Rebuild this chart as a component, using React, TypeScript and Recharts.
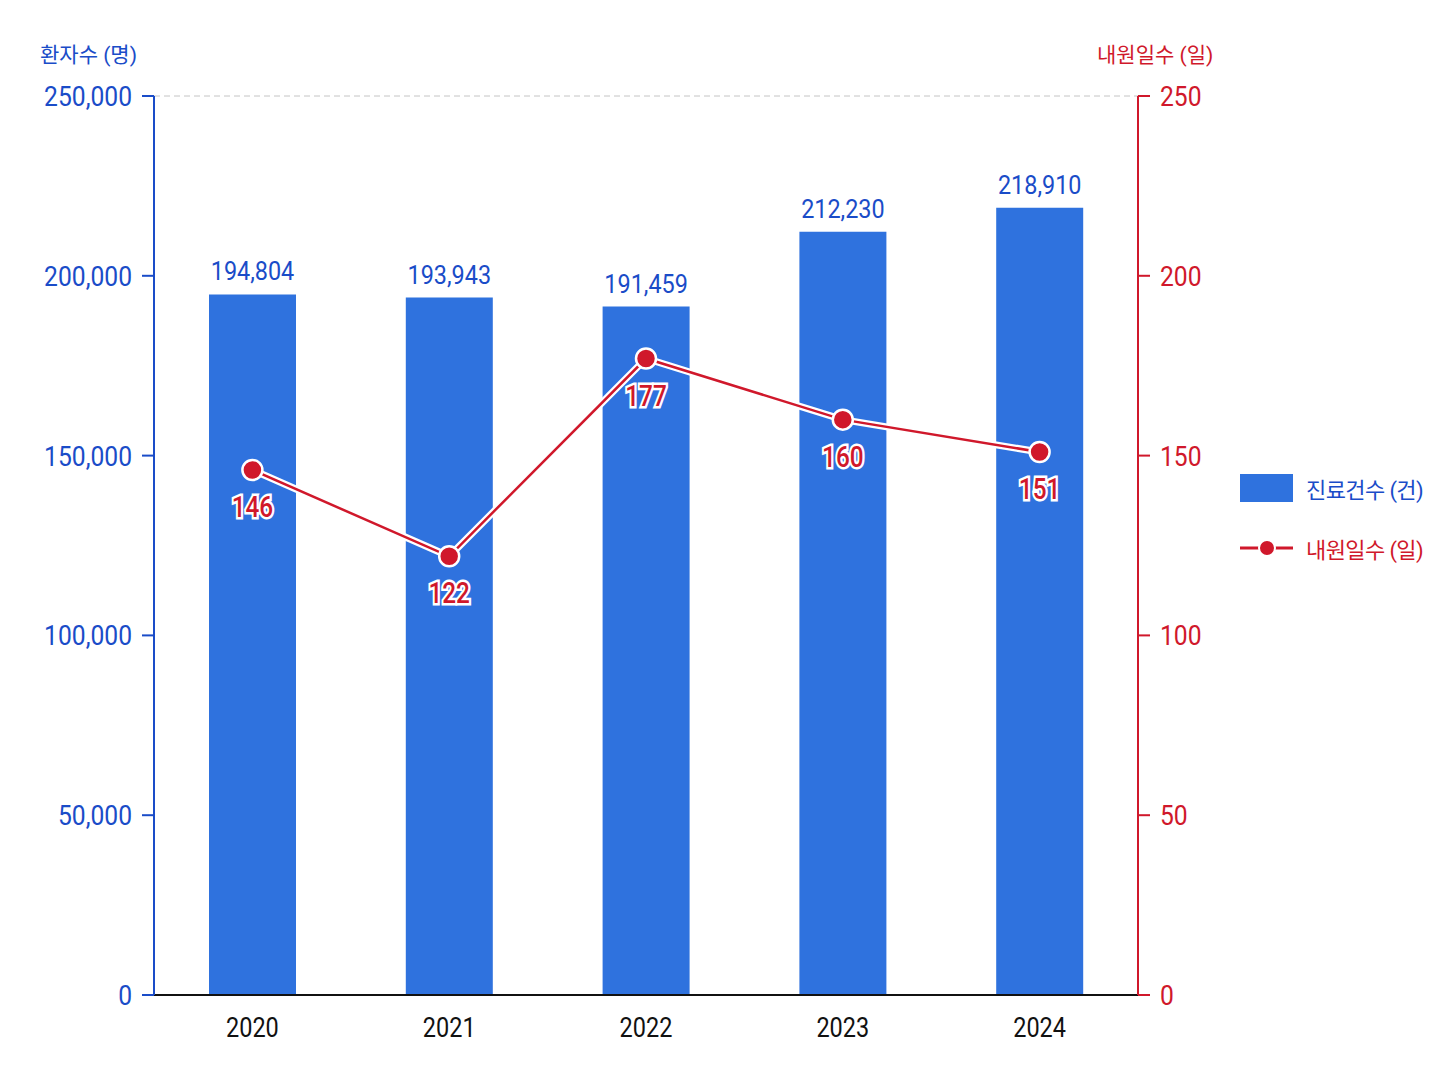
import React from "react"
import {
  ComposedChart,
  Bar,
  Line,
  XAxis,
  YAxis,
  CartesianGrid,
  LabelList,
} from "recharts"

const years = ["2020", "2021", "2022", "2023", "2024"]
const treatments = [194804, 193943, 191459, 212230, 218910]
const visitDays = [146, 122, 177, 160, 151]
const leftTicks = [0, 50000, 100000, 150000, 200000, 250000]
const rightTicks = [0, 50, 100, 150, 200, 250]

const BLUE = "#2F72DE"
const BLUE_TEXT = "#1A4CC8"
const RED = "#D0182B"
const FONT = "Roboto, 'Noto Sans CJK KR', sans-serif"

const data = years.map((year, i) => ({
  year,
  treatments: treatments[i],
  visitDays: visitDays[i],
}))

const fmt = (v: number) => v.toLocaleString("en-US")

// narrow text, the reference uses a condensed face
const Narrow = ({ x, y, scale, anchor, children, ...rest }: any) => (
  <text
    transform={`translate(${x},${y}) scale(${scale},1)`}
    x={0}
    y={0}
    textAnchor={anchor}
    fontFamily={FONT}
    {...rest}
  >
    {children}
  </text>
)

const LeftTick = (props: any) => {
  const { x, y, payload } = props
  return (
    <Narrow x={x} y={y} dy="0.36em" scale={0.88} anchor="end" fill={BLUE_TEXT} fontSize={28}>
      {fmt(payload.value)}
    </Narrow>
  )
}

const RightTick = (props: any) => {
  const { x, y, payload } = props
  return (
    <Narrow x={x} y={y} dy="0.36em" scale={0.88} anchor="start" fill={RED} fontSize={28}>
      {payload.value}
    </Narrow>
  )
}

const YearTick = (props: any) => {
  const { x, y, payload } = props
  return (
    <Narrow x={x} y={y} dy="0.71em" scale={0.84} anchor="middle" fill="#111" fontSize={28}>
      {payload.value}
    </Narrow>
  )
}

const BarValue = (props: any) => {
  const { x, y, width, value } = props
  return (
    <Narrow x={x + width / 2} y={y - 14} scale={0.9} anchor="middle" fill={BLUE_TEXT} fontSize={26}>
      {fmt(value)}
    </Narrow>
  )
}

const LineValue = (props: any) => {
  const { x, y, value } = props
  return (
    <Narrow
      x={x}
      y={y + 47}
      scale={0.84}
      anchor="middle"
      fill={RED}
      stroke="#fff"
      strokeWidth={5}
      paintOrder="stroke"
      fontSize={29}
      fontWeight={500}
    >
      {value}
    </Narrow>
  )
}

export default function App() {
  return (
    <div style={{ position: "relative", width: 1440, height: 1078, background: "#fff", fontFamily: FONT }}>
      <div style={{ position: "absolute", left: 32, top: 30, color: BLUE_TEXT, fontSize: 21 }}>
        환자수 (명)
      </div>
      <div style={{ position: "absolute", left: 1089, top: 30, color: RED, fontSize: 21 }}>
        내원일수 (일)
      </div>

      <ComposedChart
        width={1440}
        height={1078}
        data={data}
        margin={{ top: 88, right: 230, bottom: 41, left: 0 }}
      >
        <CartesianGrid vertical={false} stroke="#c4c4c4" strokeDasharray="6 4" />
        <XAxis
          dataKey="year"
          axisLine={{ stroke: "#111", strokeWidth: 2 }}
          tickLine={false}
          tick={YearTick}
          tickMargin={16}
          height={50}
        />
        <YAxis
          yAxisId="left"
          domain={[0, 250000]}
          ticks={leftTicks}
          width={146}
          axisLine={{ stroke: BLUE_TEXT, strokeWidth: 2 }}
          tickLine={{ stroke: BLUE_TEXT, strokeWidth: 2 }}
          tickSize={12}
          tickMargin={10}
          tick={LeftTick}
        />
        <YAxis
          yAxisId="right"
          orientation="right"
          domain={[0, 250]}
          ticks={rightTicks}
          width={80}
          axisLine={{ stroke: RED, strokeWidth: 2 }}
          tickLine={{ stroke: RED, strokeWidth: 2 }}
          tickSize={12}
          tickMargin={10}
          tick={RightTick}
        />
        <Bar yAxisId="left" dataKey="treatments" fill={BLUE} barSize={87} isAnimationActive={false}>
          <LabelList dataKey="treatments" content={BarValue} />
        </Bar>
        <Line
          yAxisId="right"
          dataKey="visitDays"
          stroke="#fff"
          strokeWidth={7}
          dot={false}
          activeDot={false}
          legendType="none"
          isAnimationActive={false}
        />
        <Line
          yAxisId="right"
          dataKey="visitDays"
          stroke={RED}
          strokeWidth={2.5}
          dot={{ r: 10, fill: RED, stroke: "#fff", strokeWidth: 2.5 }}
          isAnimationActive={false}
        >
          <LabelList dataKey="visitDays" content={LineValue} />
        </Line>
      </ComposedChart>

      <div style={{ position: "absolute", left: 1232, top: 464, display: "flex", alignItems: "center" }}>
        <div style={{ width: 53, height: 28, background: BLUE }} />
        <span style={{ marginLeft: 13, color: BLUE_TEXT, fontSize: 22, letterSpacing: -0.6 }}>진료건수 (건)</span>
      </div>
      <div style={{ position: "absolute", left: 1232, top: 524, display: "flex", alignItems: "center" }}>
        <svg width={53} height={28}>
          <line x1={0} y1={14} x2={53} y2={14} stroke={RED} strokeWidth={3} />
          <circle cx={27} cy={14} r={8} fill={RED} stroke="#fff" strokeWidth={2} />
        </svg>
        <span style={{ marginLeft: 13, color: RED, fontSize: 22, letterSpacing: -0.6 }}>내원일수 (일)</span>
      </div>
    </div>
  )
}
